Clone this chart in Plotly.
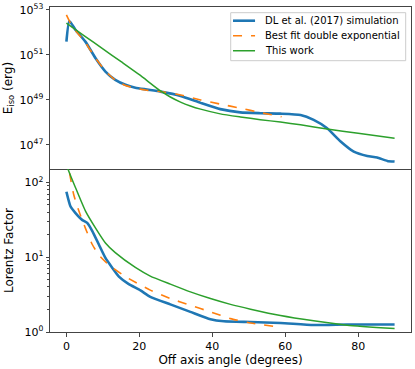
import plotly.graph_objects as go

# --- Top panel: isotropic energy vs off-axis angle ---
e_sim_deg = [0, 0.8, 2.5, 5.2, 8.0, 10.7, 13.4, 16.2, 18.9, 21.7, 25.8, 31.3, 36.8, 42.2,
             47.7, 53.2, 58.7, 64.2, 67.8, 71.5, 75.2, 78.8, 82.5, 85.2, 88.0, 90]
e_sim = [3.9e51, 3.24e52, 1.29e52, 3.9e51, 7.1e50, 1.82e50, 7.8e49, 4.7e49, 3.5e49, 2.95e49,
         2.34e49, 1.51e49, 7.4e48, 3.9e48, 2.8e48, 2.57e48, 2.45e48, 2.14e48, 1.29e48, 5.5e47,
         1.41e47, 5.0e46, 3.2e46, 2.75e46, 1.95e46, 1.82e46]

e_fit_deg = [0, 1, 2.5, 5.2, 8.0, 10.7, 13.4, 16.2, 18.9, 21.7, 25.8, 31.3, 36.8, 42.2, 47.7, 53.2, 59]
e_fit = [6.0e52, 2.8e52, 1.2e52, 3.55e51, 7.1e50, 1.9e50, 7.6e49, 4.4e49, 3.3e49, 2.75e49,
         2.34e49, 1.66e49, 1.0e49, 6.5e48, 4.3e48, 2.75e48, 1.78e48]

e_work_deg = [0, 5, 10, 15, 20, 25.8, 28.5, 31.3, 34, 36.8, 42.2, 47.7, 53.2, 58.7, 64.2, 71.5, 80, 90]
e_work = [2.57e52, 6.9e51, 1.86e51, 5.0e50, 1.32e50, 2.5e49, 1.35e49, 8.0e48, 5.4e48, 3.9e48,
          2.4e48, 1.75e48, 1.32e48, 1.04e48, 7.8e47, 5.1e47, 3.3e47, 2.0e47]

# --- Bottom panel: Lorentz factor vs off-axis angle ---
g_sim_deg = [0, 1.1, 2.5, 4.3, 5.7, 7.1, 8.9, 10.7, 12.6, 14.4, 17, 20.3, 23.0, 28.5, 34.0,
             39.5, 43.2, 50.5, 58.7, 67.8, 77, 90]
g_sim = [75, 48, 39, 31.6, 28.8, 22.4, 14.8, 9.8, 7.2, 5.5, 4.4, 3.6, 2.95, 2.34, 1.86,
         1.48, 1.39, 1.36, 1.32, 1.24, 1.26, 1.26]

g_fit_deg = [0, 2.0, 3.4, 5.2, 7.1, 8.9, 11.6, 16.2, 23.0, 28.5, 34.0, 39.5, 45.0, 50.5, 59]
g_fit = [230, 69, 41.7, 24.5, 14.8, 10.7, 7.9, 5.5, 3.63, 2.8, 2.28, 1.86, 1.51, 1.32, 1.15]

g_work_deg = [0, 0.5, 2.5, 5.2, 8.0, 10.7, 13.4, 18.9, 23.0, 28.5, 34.0, 39.5, 45.0, 50.5,
              58.7, 67.8, 77, 90]
g_work = [175, 148, 85, 41.7, 24.5, 15.5, 11.5, 7.3, 5.6, 4.37, 3.44, 2.8, 2.34, 2.02,
          1.66, 1.41, 1.23, 1.11]

x_ticks = [0, 20, 40, 60, 80]
e_ticks = [1e47, 1e49, 1e51, 1e53]
e_ticktext = ['10<sup>47</sup>', '10<sup>49</sup>', '10<sup>51</sup>', '10<sup>53</sup>']
g_ticks = [1, 10, 100]
g_ticktext = ['10<sup>0</sup>', '10<sup>1</sup>', '10<sup>2</sup>']
g_minor = [2, 3, 4, 5, 6, 7, 8, 9, 20, 30, 40, 50, 60, 70, 80, 90]

legend_names = ['DL et al. (2017) simulation', 'Best fit double exponential', 'This work']

blue, orange, green = '#1f77b4', '#ff7f0e', '#2ca02c'
line_sim = dict(color=blue, width=2.6, shape='spline', smoothing=0.5)
line_fit = dict(color=orange, width=1.6, dash='dash', shape='spline', smoothing=0.5)
line_work = dict(color=green, width=1.5, shape='spline', smoothing=0.5)
styles = [line_sim, line_fit, line_work]

fig = go.Figure()

# Energie
for xs, ys, st in zip([e_sim_deg, e_fit_deg, e_work_deg], [e_sim, e_fit, e_work], styles):
    fig.add_trace(go.Scatter(x=xs, y=ys, mode='lines', line=st, showlegend=False,
                             xaxis='x', yaxis='y'))

# Lorentz
for xs, ys, st in zip([g_sim_deg, g_fit_deg, g_work_deg], [g_sim, g_fit, g_work], styles):
    fig.add_trace(go.Scatter(x=xs, y=ys, mode='lines', line=st, showlegend=False,
                             xaxis='x2', yaxis='y2'))

# Legende (matplotlib style, dans le panneau du haut)
fig.add_shape(type='rect', xref='paper', yref='paper', x0=0.5006, x1=0.9853, y0=0.8348, y1=0.9825,
              line=dict(color='#cccccc', width=1), fillcolor='rgba(255,255,255,0.8)', layer='above')
for i, (name, st) in enumerate(zip(legend_names, styles)):
    yy = 0.9578 - i * 0.0462
    fig.add_shape(type='line', xref='paper', yref='paper', x0=0.507, x1=0.568, y0=yy, y1=yy,
                  line=dict(color=st['color'], width=st['width'], dash=st.get('dash', 'solid')),
                  layer='above')
    fig.add_annotation(xref='paper', yref='paper', x=0.590, y=yy, text=name, showarrow=False,
                       xanchor='left', yanchor='middle', font=dict(size=10, color='black'))

axis_common = dict(showline=True, linecolor='#444', linewidth=1, automargin=False,
                   showgrid=False, zeroline=False, tickcolor='#444',
                   tickfont=dict(size=11, color='black'))
title_font = dict(size=12, color='black')
split = 163 / 325

fig.update_layout(
    xaxis=dict(domain=[0, 1], range=[-4.5, 94.5], anchor='y', showticklabels=False,
               ticks='', tickvals=x_ticks, mirror=True, **axis_common),
    yaxis=dict(domain=[split, 1], type='log', range=[45.93, 53.13], anchor='x', mirror=True,
               tickvals=e_ticks, ticktext=e_ticktext, ticks='outside', ticklen=3.5,
               title=dict(text='E<sub>iso</sub> (erg)', font=title_font, standoff=4),
               **axis_common),
    xaxis2=dict(domain=[0, 1], range=[-4.5, 94.5], anchor='y2', matches='x', mirror=False,
                tickvals=x_ticks, ticks='outside', ticklen=3.5,
                title=dict(text='Off axis angle (degrees)', font=title_font, standoff=2),
                **axis_common),
    yaxis2=dict(domain=[0, split], type='log', range=[0, 2.18], anchor='x2', mirror=True,
                tickvals=g_ticks, ticktext=g_ticktext, ticks='outside', ticklen=3.5,
                minor=dict(tickvals=g_minor, ticks='outside', ticklen=2, tickcolor='#444'),
                title=dict(text='Lorentz Factor', font=title_font, standoff=8),
                **axis_common),
    showlegend=False,
    font=dict(family='DejaVu Sans', color='black'),
    plot_bgcolor='white',
    paper_bgcolor='white',
    width=415,
    height=369,
    margin=dict(l=50, r=4, t=7, b=37),
)

fig.write_html("out.html", config={'displayModeBar': False},
               post_script="document.body.style.margin='0';")
